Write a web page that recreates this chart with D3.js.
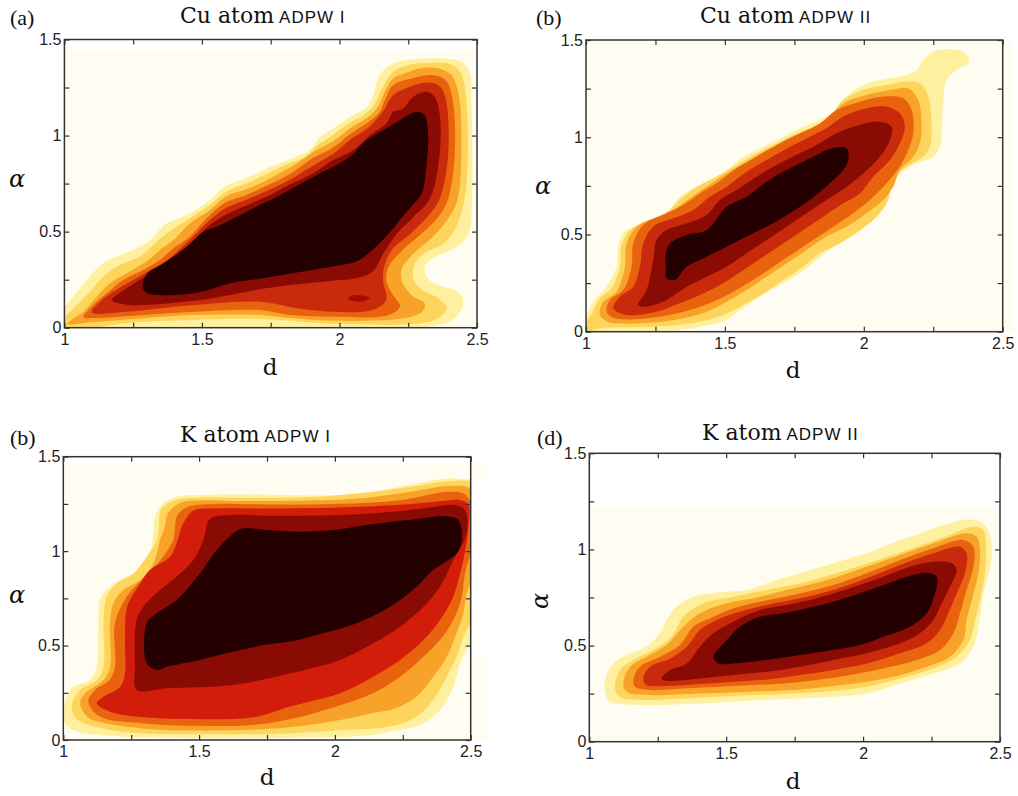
<!DOCTYPE html>
<html>
<head>
<meta charset="utf-8">
<script src="https://cdnjs.cloudflare.com/ajax/libs/d3/7.8.5/d3.min.js"></script>
<style>
  body { margin: 0; background: #fff; }
  svg { display: block; }
</style>
</head>
<body>
<svg id="fig" width="1018" height="796"></svg>
<script>
// Axis ticks (shared by all four panels)
const dTicks = [1, 1.25, 1.5, 1.75, 2, 2.25, 2.5];
const dLabels = [1, 1.5, 2, 2.5];
const alphaTicks = [0, 0.25, 0.5, 0.75, 1, 1.25, 1.5];
const alphaLabels = [0, 0.5, 1, 1.5];

// Contour fill colours, outermost level first
const levelColors = ['#fff0a0', '#fdd55c', '#f8a22a', '#e9630f', '#c92a0b', '#8a0b03', '#250000'];
const creamColor = '#fffcf1';

// Contour rings [d, alpha], outer level -> inner level
// (a) Cu atom ADPW I
const cuI_L1 = [[0.97,-0.03],[1.5,-0.02],[2.0,-0.01],[2.36,0.014],[2.425,0.057],[2.45,0.144],[2.43,0.187],[2.36,0.222],[2.32,0.257],[2.31,0.318],[2.34,0.361],[2.425,0.421],[2.47,0.491],[2.482,0.66],[2.483,0.9],[2.48,1.18],[2.473,1.33],[2.443,1.384],[2.376,1.401],[2.28,1.398],[2.195,1.375],[2.146,1.314],[2.12,1.2],[2.098,1.146],[2.04,1.098],[1.977,1.037],[1.93,0.994],[1.89,0.924],[1.81,0.872],[1.735,0.829],[1.66,0.777],[1.59,0.742],[1.529,0.664],[1.456,0.595],[1.372,0.543],[1.311,0.456],[1.263,0.413],[1.19,0.37],[1.141,0.335],[1.081,0.248],[1.032,0.161],[1.0,0.109],[0.97,0.08]];
const cuI_L2 = [[0.98,-0.02],[1.226,0.025],[1.47,0.04],[1.71,0.045],[1.977,0.02],[2.30,0.023],[2.36,0.05],[2.39,0.10],[2.36,0.153],[2.30,0.196],[2.27,0.248],[2.27,0.318],[2.30,0.378],[2.38,0.44],[2.425,0.526],[2.455,0.67],[2.467,0.9],[2.46,1.2],[2.44,1.33],[2.40,1.372],[2.34,1.378],[2.26,1.37],[2.195,1.332],[2.16,1.26],[2.13,1.17],[2.098,1.118],[2.04,1.07],[1.977,1.004],[1.92,0.95],[1.87,0.885],[1.80,0.845],[1.735,0.80],[1.66,0.75],[1.59,0.71],[1.529,0.638],[1.45,0.565],[1.372,0.491],[1.323,0.43],[1.275,0.37],[1.202,0.326],[1.141,0.265],[1.093,0.187],[1.045,0.118],[1.008,0.066],[0.98,0.03]];
const cuI_L3 = [[1.012,0.02],[1.105,0.03],[1.226,0.043],[1.47,0.066],[1.71,0.066],[1.82,0.05],[1.977,0.036],[2.24,0.05],[2.30,0.083],[2.31,0.127],[2.27,0.16],[2.23,0.231],[2.225,0.30],[2.27,0.387],[2.34,0.474],[2.40,0.578],[2.43,0.67],[2.443,0.9],[2.435,1.2],[2.41,1.31],[2.37,1.345],[2.30,1.352],[2.24,1.325],[2.195,1.297],[2.165,1.23],[2.14,1.15],[2.098,1.09],[2.04,1.04],[1.977,0.971],[1.91,0.92],[1.85,0.86],[1.735,0.768],[1.66,0.72],[1.59,0.685],[1.529,0.612],[1.45,0.535],[1.40,0.46],[1.347,0.404],[1.299,0.344],[1.226,0.283],[1.166,0.231],[1.117,0.161],[1.069,0.083],[1.03,0.045]];
const cuI_L4 = [[1.069,0.054],[1.105,0.05],[1.226,0.06],[1.47,0.083],[1.71,0.092],[1.82,0.066],[1.977,0.057],[2.18,0.066],[2.22,0.11],[2.19,0.18],[2.17,0.25],[2.18,0.32],[2.23,0.404],[2.30,0.491],[2.36,0.578],[2.395,0.67],[2.419,0.9],[2.41,1.2],[2.385,1.29],[2.34,1.314],[2.27,1.30],[2.195,1.262],[2.17,1.2],[2.145,1.12],[2.098,1.063],[2.04,1.01],[1.977,0.938],[1.90,0.88],[1.82,0.80],[1.735,0.739],[1.66,0.69],[1.59,0.655],[1.529,0.586],[1.456,0.474],[1.396,0.413],[1.347,0.352],[1.287,0.30],[1.214,0.248],[1.154,0.179],[1.105,0.118]];
const cuI_L5 = [[1.10,0.08],[1.226,0.083],[1.47,0.118],[1.71,0.135],[1.85,0.1],[1.977,0.083],[2.12,0.092],[2.17,0.144],[2.16,0.231],[2.16,0.30],[2.19,0.404],[2.26,0.491],[2.33,0.595],[2.364,0.67],[2.395,0.9],[2.385,1.2],[2.36,1.262],[2.31,1.275],[2.25,1.25],[2.195,1.21],[2.16,1.13],[2.12,1.06],[2.098,1.033],[2.04,0.98],[1.977,0.905],[1.90,0.84],[1.82,0.77],[1.735,0.711],[1.66,0.665],[1.59,0.625],[1.529,0.56],[1.48,0.49],[1.42,0.41],[1.372,0.35],[1.311,0.30],[1.25,0.248],[1.178,0.187],[1.129,0.135]];
const cuI_L6 = [[1.172,0.144],[1.226,0.12],[1.47,0.14],[1.71,0.20],[1.82,0.222],[1.977,0.245],[2.06,0.257],[2.12,0.291],[2.16,0.387],[2.21,0.491],[2.27,0.578],[2.328,0.67],[2.364,0.9],[2.364,1.115],[2.346,1.202],[2.316,1.228],[2.268,1.202],[2.231,1.14],[2.195,1.124],[2.171,1.063],[2.11,1.002],[2.05,0.924],[1.977,0.872],[1.90,0.80],[1.82,0.745],[1.735,0.681],[1.66,0.635],[1.59,0.59],[1.529,0.534],[1.49,0.48],[1.44,0.40],[1.40,0.36],[1.347,0.317],[1.263,0.239],[1.20,0.18]];
const cuI_L7 = [[1.285,0.215],[1.30,0.18],[1.47,0.179],[1.614,0.235],[1.71,0.255],[1.856,0.29],[2.0,0.325],[2.06,0.343],[2.12,0.404],[2.18,0.491],[2.23,0.578],[2.27,0.645],[2.30,0.70],[2.316,0.838],[2.322,1.011],[2.31,1.106],[2.28,1.124],[2.219,1.08],[2.159,1.028],[2.098,0.976],[2.038,0.89],[1.977,0.838],[1.916,0.794],[1.795,0.699],[1.735,0.655],[1.686,0.621],[1.614,0.569],[1.553,0.525],[1.505,0.499],[1.444,0.421],[1.36,0.335],[1.30,0.28]];
const cuI_spot = [[2.03,0.153],[2.05,0.168],[2.085,0.167],[2.11,0.153],[2.085,0.137],[2.05,0.139]];

// (b) Cu atom ADPW II
const cuII_L1 = [[0.98,-0.03],[1.29,0.0],[1.41,0.026],[1.506,0.06],[1.554,0.111],[1.626,0.18],[1.686,0.231],[1.77,0.3],[1.83,0.369],[1.89,0.437],[1.974,0.506],[2.034,0.574],[2.07,0.643],[2.082,0.746],[2.13,0.814],[2.19,0.866],[2.25,0.9],[2.274,0.951],[2.28,1.02],[2.286,1.191],[2.298,1.294],[2.334,1.346],[2.376,1.38],[2.376,1.414],[2.358,1.44],[2.298,1.452],[2.25,1.44],[2.214,1.397],[2.19,1.346],[2.13,1.311],[2.058,1.294],[1.986,1.26],[1.938,1.209],[1.89,1.123],[1.842,1.089],[1.77,1.046],[1.71,1.003],[1.638,0.951],[1.566,0.9],[1.506,0.831],[1.434,0.771],[1.374,0.729],[1.326,0.677],[1.29,0.609],[1.23,0.574],[1.17,0.54],[1.134,0.506],[1.116,0.437],[1.11,0.334],[1.074,0.231],[1.026,0.154],[1.0,0.086],[0.98,0.05]];
const cuII_L2 = [[0.99,-0.01],[1.05,0.017],[1.17,0.022],[1.29,0.029],[1.41,0.051],[1.494,0.086],[1.566,0.137],[1.638,0.197],[1.71,0.266],[1.782,0.334],[1.842,0.403],[1.914,0.454],[1.986,0.523],[2.046,0.591],[2.088,0.677],[2.1,0.78],[2.154,0.849],[2.214,0.9],[2.238,0.951],[2.244,1.054],[2.232,1.209],[2.202,1.277],[2.154,1.286],[2.082,1.269],[1.998,1.243],[1.926,1.191],[1.878,1.106],[1.83,1.063],[1.758,1.02],[1.686,0.969],[1.614,0.917],[1.542,0.857],[1.47,0.797],[1.41,0.754],[1.35,0.694],[1.314,0.643],[1.266,0.591],[1.206,0.557],[1.158,0.523],[1.128,0.446],[1.122,0.334],[1.092,0.223],[1.05,0.171],[1.02,0.094],[1.0,0.05]];
const cuII_L3 = [[1.05,0.086],[1.08,0.05],[1.11,0.043],[1.23,0.046],[1.35,0.069],[1.434,0.103],[1.506,0.154],[1.578,0.214],[1.65,0.283],[1.722,0.351],[1.794,0.42],[1.866,0.489],[1.938,0.54],[2.01,0.609],[2.07,0.677],[2.106,0.746],[2.13,0.831],[2.178,0.9],[2.202,0.969],[2.208,1.054],[2.196,1.191],[2.16,1.251],[2.094,1.243],[2.01,1.217],[1.926,1.174],[1.866,1.089],[1.806,1.037],[1.734,0.986],[1.65,0.934],[1.578,0.874],[1.506,0.814],[1.434,0.746],[1.374,0.686],[1.314,0.626],[1.242,0.583],[1.182,0.54],[1.146,0.454],[1.14,0.334],[1.11,0.206],[1.062,0.154]];
const cuII_L4 = [[1.074,0.103],[1.1,0.07],[1.146,0.063],[1.266,0.077],[1.374,0.111],[1.458,0.154],[1.53,0.206],[1.602,0.266],[1.674,0.334],[1.746,0.403],[1.818,0.471],[1.89,0.54],[1.962,0.609],[2.022,0.677],[2.082,0.763],[2.13,0.849],[2.16,0.934],[2.178,1.02],[2.172,1.14],[2.142,1.2],[2.07,1.209],[1.986,1.183],[1.902,1.14],[1.842,1.071],[1.77,1.02],[1.698,0.969],[1.614,0.9],[1.542,0.84],[1.47,0.763],[1.41,0.711],[1.35,0.651],[1.278,0.6],[1.206,0.549],[1.17,0.454],[1.164,0.334],[1.134,0.214],[1.086,0.163]];
const cuII_L5 = [[1.098,0.12],[1.146,0.086],[1.254,0.103],[1.338,0.146],[1.422,0.197],[1.494,0.249],[1.566,0.317],[1.638,0.386],[1.71,0.454],[1.782,0.523],[1.854,0.591],[1.926,0.66],[1.986,0.711],[2.034,0.797],[2.094,0.883],[2.13,0.969],[2.148,1.054],[2.13,1.123],[2.082,1.157],[2.01,1.149],[1.926,1.106],[1.866,1.046],[1.806,1.003],[1.734,0.951],[1.65,0.883],[1.578,0.823],[1.506,0.746],[1.446,0.694],[1.386,0.626],[1.314,0.583],[1.242,0.54],[1.206,0.454],[1.194,0.334],[1.17,0.231],[1.122,0.18]];
const cuII_L6 = [[1.188,0.137],[1.218,0.129],[1.29,0.163],[1.362,0.231],[1.434,0.283],[1.506,0.334],[1.578,0.403],[1.65,0.471],[1.722,0.54],[1.794,0.609],[1.866,0.677],[1.938,0.746],[1.998,0.814],[2.058,0.9],[2.094,0.986],[2.1,1.054],[2.058,1.08],[1.962,1.054],[1.89,1.011],[1.842,0.969],[1.77,0.917],[1.686,0.857],[1.614,0.797],[1.542,0.729],[1.482,0.677],[1.434,0.6],[1.362,0.557],[1.29,0.523],[1.254,0.471],[1.242,0.369],[1.218,0.214]];
const cuII_L7 = [[1.287,0.403],[1.302,0.454],[1.362,0.497],[1.434,0.523],[1.506,0.643],[1.578,0.694],[1.65,0.771],[1.71,0.823],[1.77,0.866],[1.83,0.909],[1.878,0.94],[1.938,0.943],[1.944,0.883],[1.926,0.831],[1.878,0.763],[1.806,0.677],[1.734,0.609],[1.65,0.54],[1.578,0.489],[1.506,0.437],[1.434,0.386],[1.362,0.334],[1.32,0.266],[1.29,0.274],[1.287,0.334]];

// (c) K atom ADPW I
const kI_L1 = [[1.0,0.14],[1.01,0.08],[1.049,0.045],[1.135,0.026],[1.258,0.014],[1.503,0.009],[1.871,0.012],[2.117,0.024],[2.203,0.044],[2.326,0.088],[2.387,0.159],[2.436,0.282],[2.461,0.406],[2.485,0.476],[2.51,0.52],[2.56,0.6],[2.56,1.2],[2.52,1.376],[2.473,1.38],[2.412,1.385],[2.301,1.359],[2.178,1.323],[2.056,1.3],[1.933,1.295],[1.81,1.297],[1.626,1.3],[1.503,1.297],[1.417,1.288],[1.368,1.253],[1.338,1.182],[1.331,1.094],[1.319,0.988],[1.283,0.9],[1.233,0.865],[1.172,0.812],[1.135,0.741],[1.129,0.618],[1.123,0.388],[1.098,0.318],[1.037,0.282],[1.012,0.23]];
const kI_L2 = [[1.031,0.177],[1.05,0.11],[1.15,0.06],[1.3,0.035],[1.5,0.03],[1.7,0.03],[1.835,0.035],[2.0,0.05],[2.203,0.071],[2.301,0.124],[2.362,0.212],[2.412,0.335],[2.448,0.441],[2.473,0.547],[2.491,0.6],[2.53,0.7],[2.54,1.2],[2.51,1.36],[2.42,1.37],[2.3,1.345],[2.1,1.308],[1.9,1.285],[1.626,1.283],[1.5,1.283],[1.41,1.27],[1.36,1.22],[1.352,1.12],[1.344,1.059],[1.307,0.97],[1.258,0.882],[1.197,0.829],[1.16,0.759],[1.148,0.618],[1.148,0.388],[1.123,0.318],[1.062,0.265]];
const kI_L3 = [[1.062,0.194],[1.09,0.12],[1.15,0.09],[1.3,0.06],[1.5,0.05],[1.7,0.055],[1.85,0.07],[2.0,0.1],[2.15,0.145],[2.227,0.17],[2.301,0.23],[2.362,0.335],[2.412,0.441],[2.448,0.565],[2.473,0.671],[2.485,0.777],[2.52,0.9],[2.53,1.2],[2.5,1.33],[2.42,1.345],[2.3,1.32],[2.1,1.28],[1.9,1.268],[1.626,1.265],[1.5,1.268],[1.43,1.255],[1.385,1.2],[1.372,1.12],[1.356,1.059],[1.332,0.935],[1.283,0.847],[1.221,0.794],[1.184,0.724],[1.172,0.618],[1.172,0.388],[1.148,0.318],[1.08,0.247]];
const kI_L4 = [[1.092,0.203],[1.135,0.124],[1.295,0.088],[1.5,0.075],[1.7,0.08],[1.85,0.115],[2.0,0.175],[2.141,0.247],[2.24,0.335],[2.326,0.441],[2.387,0.529],[2.436,0.635],[2.467,0.759],[2.479,0.882],[2.5,1.0],[2.51,1.2],[2.48,1.3],[2.42,1.315],[2.24,1.27],[1.994,1.25],[1.749,1.247],[1.55,1.25],[1.46,1.235],[1.42,1.19],[1.41,1.1],[1.405,1.059],[1.368,0.97],[1.313,0.882],[1.27,0.82],[1.233,0.759],[1.19,0.618],[1.19,0.388],[1.17,0.318],[1.117,0.265]];
const kI_L5 = [[1.123,0.194],[1.172,0.15],[1.3,0.12],[1.5,0.11],[1.7,0.12],[1.835,0.177],[2.019,0.247],[2.141,0.335],[2.24,0.424],[2.326,0.529],[2.387,0.635],[2.436,0.759],[2.461,0.882],[2.473,0.953],[2.49,1.1],[2.49,1.25],[2.461,1.27],[2.362,1.26],[2.24,1.245],[1.994,1.23],[1.749,1.226],[1.565,1.226],[1.48,1.215],[1.442,1.147],[1.417,1.041],[1.393,0.97],[1.319,0.9],[1.283,0.829],[1.235,0.706],[1.227,0.53],[1.227,0.353],[1.21,0.282],[1.148,0.229]];
const kI_L6 = [[1.264,0.388],[1.27,0.265],[1.381,0.274],[1.626,0.291],[1.835,0.353],[2.019,0.424],[2.141,0.512],[2.24,0.6],[2.326,0.706],[2.387,0.812],[2.436,0.953],[2.485,1.094],[2.479,1.218],[2.448,1.243],[2.362,1.234],[2.24,1.212],[2.117,1.198],[1.994,1.19],[1.749,1.188],[1.626,1.191],[1.54,1.17],[1.516,1.059],[1.479,0.953],[1.417,0.865],[1.356,0.794],[1.295,0.706],[1.27,0.635]];
const kI_L7 = [[1.307,0.618],[1.307,0.406],[1.344,0.37],[1.381,0.388],[1.503,0.424],[1.626,0.468],[1.749,0.505],[1.835,0.521],[1.957,0.565],[2.08,0.618],[2.203,0.706],[2.301,0.812],[2.362,0.9],[2.448,0.988],[2.467,1.059],[2.455,1.165],[2.412,1.185],[2.301,1.17],[2.117,1.138],[1.994,1.112],[1.871,1.103],[1.749,1.112],[1.662,1.121],[1.626,1.094],[1.565,1.006],[1.503,0.882],[1.417,0.741],[1.344,0.671]];

// (d) K atom ADPW II
const kII_L1 = [[1.057,0.269],[1.075,0.208],[1.112,0.196],[1.222,0.191],[1.404,0.199],[1.648,0.217],[1.891,0.234],[2.013,0.251],[2.135,0.303],[2.257,0.355],[2.354,0.407],[2.403,0.494],[2.427,0.65],[2.439,0.772],[2.464,0.91],[2.47,1.014],[2.457,1.101],[2.427,1.144],[2.378,1.157],[2.317,1.136],[2.257,1.11],[2.196,1.075],[2.135,1.049],[2.074,1.014],[2.013,0.98],[1.952,0.954],[1.891,0.928],[1.77,0.876],[1.648,0.824],[1.575,0.789],[1.465,0.775],[1.38,0.754],[1.319,0.702],[1.282,0.633],[1.258,0.564],[1.209,0.494],[1.136,0.451],[1.088,0.407],[1.061,0.338]];
const kII_L2 = [[1.094,0.277],[1.112,0.234],[1.185,0.217],[1.343,0.225],[1.526,0.238],[1.709,0.248],[1.891,0.265],[2.013,0.286],[2.135,0.329],[2.257,0.381],[2.342,0.442],[2.39,0.529],[2.409,0.633],[2.427,0.737],[2.445,0.876],[2.449,1.014],[2.439,1.101],[2.403,1.118],[2.317,1.075],[2.196,1.014],[2.074,0.954],[1.94,0.893],[1.794,0.832],[1.648,0.789],[1.526,0.754],[1.416,0.72],[1.343,0.65],[1.301,0.546],[1.234,0.477],[1.161,0.425],[1.112,0.373]];
const kII_L3 = [[1.124,0.303],[1.136,0.26],[1.222,0.243],[1.404,0.251],[1.587,0.26],[1.77,0.272],[1.891,0.29],[2.013,0.312],[2.135,0.347],[2.232,0.39],[2.317,0.442],[2.366,0.529],[2.378,0.633],[2.397,0.737],[2.421,0.876],[2.427,0.997],[2.415,1.066],[2.378,1.084],[2.257,1.032],[2.135,0.971],[2.013,0.91],[1.867,0.841],[1.721,0.789],[1.599,0.746],[1.502,0.72],[1.404,0.668],[1.343,0.598],[1.282,0.503],[1.209,0.442],[1.149,0.39]];
const kII_L4 = [[1.161,0.321],[1.167,0.286],[1.222,0.269],[1.343,0.277],[1.526,0.29],[1.709,0.303],[1.83,0.321],[1.952,0.347],[2.074,0.381],[2.196,0.425],[2.281,0.477],[2.33,0.564],[2.354,0.668],[2.378,0.789],[2.403,0.91],[2.403,1.014],[2.366,1.049],[2.257,1.006],[2.135,0.945],[2.013,0.876],[1.891,0.815],[1.745,0.763],[1.623,0.728],[1.526,0.694],[1.453,0.65],[1.38,0.598],[1.331,0.503],[1.258,0.442],[1.185,0.39]];
const kII_L5 = [[1.197,0.329],[1.209,0.295],[1.282,0.29],[1.404,0.3],[1.526,0.312],[1.648,0.324],[1.77,0.347],[1.891,0.373],[2.013,0.407],[2.135,0.46],[2.232,0.512],[2.281,0.581],[2.311,0.668],[2.342,0.772],[2.372,0.876],[2.378,0.98],[2.354,1.014],[2.257,0.98],[2.135,0.919],[2.013,0.85],[1.891,0.789],[1.77,0.746],[1.648,0.711],[1.55,0.676],[1.465,0.633],[1.404,0.581],[1.356,0.494],[1.295,0.433],[1.222,0.39]];
const kII_L6 = [[1.264,0.329],[1.282,0.317],[1.404,0.329],[1.526,0.347],[1.648,0.364],[1.77,0.39],[1.891,0.425],[2.013,0.46],[2.135,0.512],[2.208,0.564],[2.257,0.633],[2.281,0.702],[2.317,0.806],[2.342,0.893],[2.324,0.928],[2.257,0.936],[2.171,0.91],[2.074,0.858],[1.952,0.798],[1.83,0.746],[1.721,0.711],[1.623,0.685],[1.526,0.624],[1.453,0.564],[1.404,0.494],[1.356,0.407],[1.295,0.373]];
const kII_L7 = [[1.453,0.442],[1.471,0.407],[1.526,0.407],[1.648,0.425],[1.77,0.451],[1.891,0.477],[1.989,0.503],[2.074,0.546],[2.171,0.598],[2.232,0.668],[2.263,0.772],[2.269,0.858],[2.232,0.879],[2.159,0.858],[2.074,0.815],[1.989,0.772],[1.891,0.728],[1.794,0.694],[1.709,0.668],[1.623,0.65],[1.55,0.598],[1.502,0.529]];

// Cream background patches of each plot: [dFrom, dTo, alphaFrom, alphaTo]
const cuI_cream = [[1, 2.5, 0, 1.444]];
const cuII_cream = [[1, 2.54, 0, 1.5]];
const kI_cream = [[1, 2.5, 0, 1.47], [2.5, 2.56, 1.376, 1.473], [2.5, 2.56, 0, 0.441]];
const kII_cream = [[1, 2.5, 0, 1.226]];

// Layout of the four panels (pixel boxes and text placement)
const panels = [
  { tag: '(a)', atom: 'Cu atom', scheme: 'ADPW I', x0: 64.4, x1: 477, y0: 39.5, y1: 327.7,
    tagX: 10, tagY: 25, titleX: 180, titleY: 23, dX: 270, dY: 375, aX: 17, aY: 187, aRot: false, red: null,
    rings: [cuI_L1, cuI_L2, cuI_L3, cuI_L4, cuI_L5, cuI_L6, cuI_L7], spots: [cuI_spot], cream: cuI_cream },
  { tag: '(b)', atom: 'Cu atom', scheme: 'ADPW II', x0: 586, x1: 1002.7, y0: 40, y1: 331.7,
    tagX: 536, tagY: 25, titleX: 700, titleY: 23, dX: 793, dY: 378, aX: 543, aY: 194, aRot: false, red: null,
    rings: [cuII_L1, cuII_L2, cuII_L3, cuII_L4, cuII_L5, cuII_L6, cuII_L7], spots: [], cream: cuII_cream },
  { tag: '(b)', atom: 'K atom', scheme: 'ADPW I', x0: 63.3, x1: 470.7, y0: 456.7, y1: 740,
    tagX: 10, tagY: 445, titleX: 180, titleY: 442, dX: 267, dY: 785, aX: 17, aY: 603, aRot: false, red: '#d21d0a',
    rings: [kI_L1, kI_L2, kI_L3, kI_L4, kI_L5, kI_L6, kI_L7], spots: [], cream: kI_cream },
  { tag: '(d)', atom: 'K atom', scheme: 'ADPW II', x0: 589.3, x1: 1000, y0: 453.3, y1: 741.7,
    tagX: 537, tagY: 445, titleX: 702, titleY: 440, dX: 793, dY: 789, aX: 548, aY: 601, aRot: true, red: null,
    rings: [kII_L1, kII_L2, kII_L3, kII_L4, kII_L5, kII_L6, kII_L7], spots: [], cream: kII_cream }
];

const svg = d3.select('#fig');
const ring = d3.line().curve(d3.curveCatmullRomClosed.alpha(0.5));

function styleAxis(g) {
  g.select('.domain').remove();
  g.selectAll('.tick line').attr('stroke', '#333').attr('stroke-width', 1.2);
  g.selectAll('.tick text')
    .attr('fill', '#222')
    .style('font-family', '"Liberation Sans", Arial, sans-serif')
    .style('font-size', '16px');
}

panels.forEach((p, i) => {
  const x = d3.scaleLinear().domain([1, 2.5]).range([p.x0, p.x1]);
  const y = d3.scaleLinear().domain([0, 1.5]).range([p.y1, p.y0]);
  const g = svg.append('g');

  // background
  g.selectAll('rect.bg')
    .data(p.cream)
    .enter()
    .append('rect')
    .attr('class', 'bg')
    .attr('x', d => x(d[0]))
    .attr('y', d => y(d[3]))
    .attr('width', d => x(d[1]) - x(d[0]))
    .attr('height', d => y(d[2]) - y(d[3]))
    .attr('fill', creamColor);

  const clipId = 'clip-' + i;
  svg.append('clipPath').attr('id', clipId)
    .append('rect')
    .attr('x', p.x0).attr('y', p.y0)
    .attr('width', p.x1 - p.x0).attr('height', p.y1 - p.y0);

  const cg = g.append('g').attr('clip-path', 'url(#' + clipId + ')');

  // filled contour levels, outer to inner
  cg.selectAll('path.level')
    .data(p.rings)
    .enter()
    .append('path')
    .attr('class', 'level')
    .attr('d', r => ring(r.map(q => [x(q[0]), y(q[1])])))
    .attr('fill', (r, k) => (k === 4 && p.red) ? p.red : levelColors[k]);

  cg.selectAll('path.spot')
    .data(p.spots)
    .enter()
    .append('path')
    .attr('class', 'spot')
    .attr('d', r => ring(r.map(q => [x(q[0]), y(q[1])])))
    .attr('fill', '#a80a02');

  // axes with inward ticks on all four sides
  g.append('g')
    .attr('transform', 'translate(0,' + p.y1 + ')')
    .call(d3.axisBottom(x).tickValues(dTicks).tickSize(-5).tickSizeOuter(0).tickPadding(6)
      .tickFormat(v => dLabels.includes(v) ? String(v) : ''))
    .call(styleAxis);
  g.append('g')
    .attr('transform', 'translate(' + p.x0 + ',0)')
    .call(d3.axisLeft(y).tickValues(alphaTicks).tickSize(-5).tickSizeOuter(0).tickPadding(3)
      .tickFormat(v => alphaLabels.includes(v) ? String(v) : ''))
    .call(styleAxis);
  g.append('g')
    .attr('transform', 'translate(0,' + p.y0 + ')')
    .call(d3.axisTop(x).tickValues(dTicks).tickSize(-5).tickSizeOuter(0).tickFormat(''))
    .call(styleAxis);
  g.append('g')
    .attr('transform', 'translate(' + p.x1 + ',0)')
    .call(d3.axisRight(y).tickValues(alphaTicks).tickSize(-5).tickSizeOuter(0).tickFormat(''))
    .call(styleAxis);

  g.append('rect')
    .attr('x', p.x0).attr('y', p.y0)
    .attr('width', p.x1 - p.x0).attr('height', p.y1 - p.y0)
    .attr('fill', 'none')
    .attr('stroke', '#333')
    .attr('stroke-width', 1.5);

  // texts
  g.append('text')
    .attr('x', p.tagX).attr('y', p.tagY)
    .style('font-family', '"Liberation Serif", "Times New Roman", serif')
    .style('font-size', '22px')
    .attr('fill', '#111')
    .text(p.tag);

  const title = g.append('text')
    .attr('x', p.titleX).attr('y', p.titleY)
    .attr('fill', '#111');
  title.append('tspan')
    .style('font-family', '"DejaVu Serif", serif')
    .style('font-size', '22px')
    .text(p.atom);
  title.append('tspan')
    .attr('dx', 5)
    .style('font-family', '"Liberation Sans", Arial, sans-serif')
    .style('font-size', '17px')
    .style('letter-spacing', '1px')
    .text(p.scheme);

  g.append('text')
    .attr('x', p.dX).attr('y', p.dY)
    .attr('text-anchor', 'middle')
    .style('font-family', '"DejaVu Serif", serif')
    .style('font-size', '23px')
    .attr('fill', '#111')
    .text('d');

  g.append('text')
    .attr('transform', 'translate(' + p.aX + ',' + p.aY + ')' + (p.aRot ? ' rotate(-90)' : ''))
    .attr('text-anchor', 'middle')
    .style('font-family', '"DejaVu Serif", serif')
    .style('font-style', 'italic')
    .style('font-size', '24px')
    .attr('fill', '#111')
    .text('α');
});
</script>
</body>
</html>
